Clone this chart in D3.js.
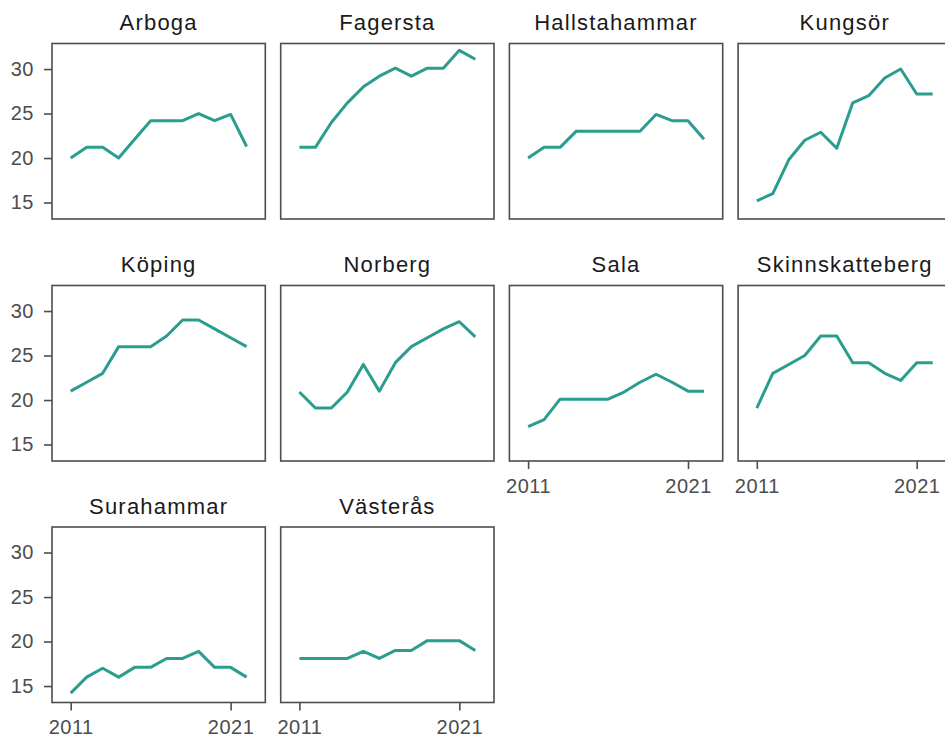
<!DOCTYPE html>
<html>
<head>
<meta charset="utf-8">
<script src="https://cdn.jsdelivr.net/npm/d3@7"></script>
<style>
  body { margin: 0; background: #fff; }
  svg { display: block; }
</style>
</head>
<body>
<div id="chart"></div>
<script>
// years on the x axis
var years = [2011, 2012, 2013, 2014, 2015, 2016, 2017, 2018, 2019, 2020, 2021, 2022];

// facet names, in panel order
var municipalities = ["Arboga", "Fagersta", "Hallstahammar", "Kungsör", "Köping",
  "Norberg", "Sala", "Skinnskatteberg", "Surahammar", "Västerås"];

// values per municipality
var arboga          = [20.0, 21.2, 21.2, 20.0, 22.1, 24.2, 24.2, 24.2, 25.0, 24.2, 24.9, 21.3];
var fagersta        = [21.2, 21.2, 24.0, 26.2, 28.0, 29.2, 30.1, 29.2, 30.1, 30.1, 32.1, 31.1];
var hallstahammar   = [20.0, 21.2, 21.2, 23.0, 23.0, 23.0, 23.0, 23.0, 24.9, 24.2, 24.2, 22.1];
var kungsor         = [15.2, 16.0, 19.8, 22.0, 22.9, 21.1, 26.2, 27.0, 29.0, 30.0, 27.2, 27.2];
var koping          = [21.0, 22.0, 23.0, 26.0, 26.0, 26.0, 27.2, 29.0, 29.0, 28.0, 27.0, 26.0];
var norberg         = [20.9, 19.1, 19.1, 20.9, 24.0, 21.0, 24.2, 26.0, 27.0, 28.0, 28.8, 27.1];
var sala            = [17.0, 17.8, 20.1, 20.1, 20.1, 20.1, 20.9, 22.0, 22.9, 22.0, 21.0, 21.0];
var skinnskatteberg = [19.1, 23.0, 24.0, 25.0, 27.2, 27.2, 24.2, 24.2, 23.0, 22.2, 24.2, 24.2];
var surahammar      = [14.2, 16.0, 17.0, 16.0, 17.1, 17.1, 18.1, 18.1, 18.9, 17.1, 17.1, 16.0];
var vasteras        = [18.1, 18.1, 18.1, 18.1, 18.9, 18.1, 19.0, 19.0, 20.1, 20.1, 20.1, 19.0];

var series = [arboga, fagersta, hallstahammar, kungsor, koping,
  norberg, sala, skinnskatteberg, surahammar, vasteras];

var yTicks = [15, 20, 25, 30];
var xTicks = [2011, 2021];

// layout
var W = 945, H = 739;
var ncol = 4;
var colLeft = [52, 280.7, 509.4, 738.1];
var rowTop = [43.5, 285.5, 527];
var pw = 213.3, ph = 175.5;
var lineColor = "#2a9d8f";
var frameColor = "#4d4d4d";

var svg = d3.select("#chart").append("svg")
  .attr("width", W)
  .attr("height", H);

var x = d3.scaleLinear()
  .domain(d3.extent(years))
  .range([18.7, pw - 18.7]);

var y = d3.scaleLinear()
  .domain([13.15, 32.87])
  .range([ph, 0]);

var line = d3.line()
  .x(function(d, i){ return x(years[i]) })
  .y(function(d){ return y(d) });

var n = municipalities.length;

municipalities.forEach(function(name, k) {
  var col = k % ncol, row = Math.floor(k / ncol);
  var g = svg.append("g")
    .attr("transform", "translate(" + colLeft[col] + "," + rowTop[row] + ")");

  // strip title
  g.append("text")
    .attr("x", pw / 2)
    .attr("y", -13.5)
    .attr("text-anchor", "middle")
    .style("font-family", "Arial, 'Liberation Sans', sans-serif")
    .style("font-size", "22px")
    .style("letter-spacing", "1.2px")
    .style("fill", "#1a1a1a")
    .text(name);

  // data line
  g.append("path")
    .datum(series[k])
    .attr("fill", "none")
    .attr("stroke", lineColor)
    .attr("stroke-width", 3)
    .attr("stroke-linejoin", "round")
    .attr("d", line);

  // panel border
  g.append("rect")
    .attr("width", pw)
    .attr("height", ph)
    .attr("fill", "none")
    .attr("stroke", frameColor)
    .attr("stroke-width", 1.6);

  // y axis only on first column
  if (col === 0) {
    var ya = g.append("g")
      .call(d3.axisLeft(y).tickValues(yTicks).tickSize(8).tickPadding(10));
    ya.select(".domain").remove();
    ya.selectAll(".tick line").attr("stroke", frameColor).attr("stroke-width", 1.6);
    ya.selectAll("text")
      .style("font-family", "Arial, 'Liberation Sans', sans-serif")
      .style("font-size", "20px")
      .style("letter-spacing", "0.5px")
      .style("fill", "#4d4d4d");
  }

  // x axis where no panel sits below
  if (k + ncol >= n) {
    var xa = g.append("g")
      .attr("transform", "translate(0," + ph + ")")
      .call(d3.axisBottom(x).tickValues(xTicks).tickFormat(d3.format("d")).tickSize(8).tickPadding(9.5));
    xa.select(".domain").remove();
    xa.selectAll(".tick line").attr("stroke", frameColor).attr("stroke-width", 1.6);
    xa.selectAll("text")
      .style("font-family", "Arial, 'Liberation Sans', sans-serif")
      .style("font-size", "20px")
      .style("letter-spacing", "0.5px")
      .style("fill", "#4d4d4d");
  }
});
</script>
</body>
</html>
